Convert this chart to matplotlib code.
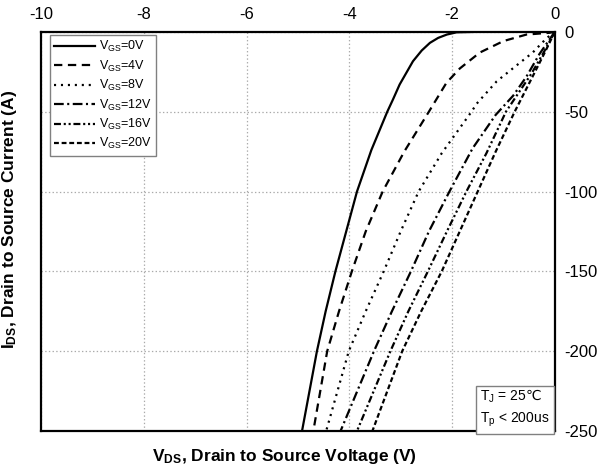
import numpy as np
import matplotlib
matplotlib.use('Agg')
import matplotlib.pyplot as plt

plt.rcParams['font.family'] = ['Liberation Sans', 'DejaVu Sans']
plt.rcParams['mathtext.fontset'] = 'custom'
plt.rcParams['mathtext.rm'] = 'Liberation Sans'
plt.rcParams['mathtext.it'] = 'Liberation Sans:italic'
plt.rcParams['mathtext.bf'] = 'Liberation Sans:bold'
plt.rcParams['mathtext.sf'] = 'DejaVu Sans'
plt.rcParams['axes.unicode_minus'] = False
plt.rcParams['lines.scale_dashes'] = False

# curves: (VDS, IDS) pairs per gate voltage
v_0 = [0, -1.5, -1.91, -2.10, -2.27, -2.43, -2.59, -2.76, -2.89, -3.02, -3.15, -3.26,
       -3.57, -3.85, -4.06, -4.27, -4.46, -4.63, -4.92]
i_0 = [0, 0, -0.3, -1.7, -3.8, -6.9, -11.7, -18.4, -25.7, -33, -42.4, -50,
       -74, -100, -125, -150, -175, -200, -250]

v_4 = [0, -0.10, -0.55, -1.0, -1.46, -1.85, -2.11, -2.45, -2.93, -3.35, -3.68, -3.95, -4.2, -4.43, -4.7]
i_4 = [0, -0.6, -1.7, -5.8, -13, -23, -32, -50, -75, -100, -125, -150, -175, -200, -250]

v_8 = [0, -0.16, -0.43, -0.82, -1.13, -1.52, -1.62, -2.2, -2.65, -3.0, -3.33, -3.68, -4.01, -4.45]
i_8 = [0, -4, -13, -23, -31, -45, -50, -76, -100, -125, -150, -175, -200, -250]

v_12 = [0, -0.3, -0.55, -0.81, -1.15, -1.6, -2.05, -2.45, -2.8, -3.17, -3.52, -4.17]
i_12 = [0, -14, -28, -40, -52, -73, -100, -125, -150, -175, -200, -250]

v_16 = [0, -0.2, -0.45, -0.95, -1.33, -1.72, -2.1, -2.47, -2.85, -3.2, -3.85]
i_16 = [0, -12, -26, -50, -76, -100, -125, -150, -175, -200, -250]

v_20 = [0, -0.18, -0.4, -0.78, -1.15, -1.5, -1.85, -2.2, -2.6, -2.97, -3.55]
i_20 = [0, -12, -26, -50, -75, -100, -125, -150, -175, -200, -250]

labels = ['0V', '4V', '8V', '12V', '16V', '20V']
x_ticks = [-10, -8, -6, -4, -2, 0]
y_ticks = [0, -50, -100, -150, -200, -250]

fig = plt.figure(figsize=(6.13, 4.68), dpi=100)
ax = fig.add_axes([0.067, 0.079, 0.838, 0.853])

styles = [
    dict(linestyle='-'),
    dict(dashes=(6, 4)),
    dict(dashes=(1.5, 3.5)),
    dict(dashes=(7, 2.5, 1.5, 2.5)),
    dict(dashes=(5, 2, 1.5, 2, 1.5, 2)),
    dict(dashes=(3.5, 2)),
]
curves = [(v_0, i_0), (v_4, i_4), (v_8, i_8), (v_12, i_12), (v_16, i_16), (v_20, i_20)]
for (v, i), lab, st in zip(curves, labels, styles):
    ax.plot(v, i, color='black', lw=1.6, label=r'V$\mathregular{_{GS}}$=' + lab, **st)

ax.set_xlim(-10, 0)
ax.set_ylim(-250, 0)
ax.set_xticks(x_ticks)
ax.set_yticks(y_ticks)
ax.xaxis.tick_top()
ax.yaxis.tick_right()
ax.tick_params(length=0, labelsize=12, pad=7)
ax.grid(True, linestyle=':', color='#aaaaaa', lw=0.9)
for s in ax.spines.values():
    s.set_linewidth(1.6)

ax.set_xlabel(r'V$\mathregular{_{DS}}$, Drain to Source Voltage (V)', fontsize=12.5,
              fontweight='bold')
ax.xaxis.set_label_coords(0.473, -0.04)
ax.set_ylabel(r'I$\mathregular{_{DS}}$, Drain to Source Current (A)', fontsize=12.5,
              fontweight='bold')
ax.yaxis.set_label_coords(-0.043, 0.53)

leg = ax.legend(loc='upper left', bbox_to_anchor=(0.017, 0.993), borderaxespad=0,
                fontsize=9, handlelength=3.3, labelspacing=0.35, handletextpad=0.3,
                fancybox=False, framealpha=1, edgecolor='#808080', borderpad=0.35)
leg.get_frame().set_linewidth(1.0)

ax.text(0.99, 0.004, 'T$\\mathregular{_J}$ = 25$\\mathsf{\u2103}$\nT$\\mathregular{_p}$ < 200us',
        transform=ax.transAxes, ha='right', va='bottom', fontsize=10, linespacing=1.5,
        multialignment='left',
        bbox=dict(boxstyle='square,pad=0.3', fc='white', ec='#808080', lw=1.0))

fig.savefig('out.png', dpi=100)
